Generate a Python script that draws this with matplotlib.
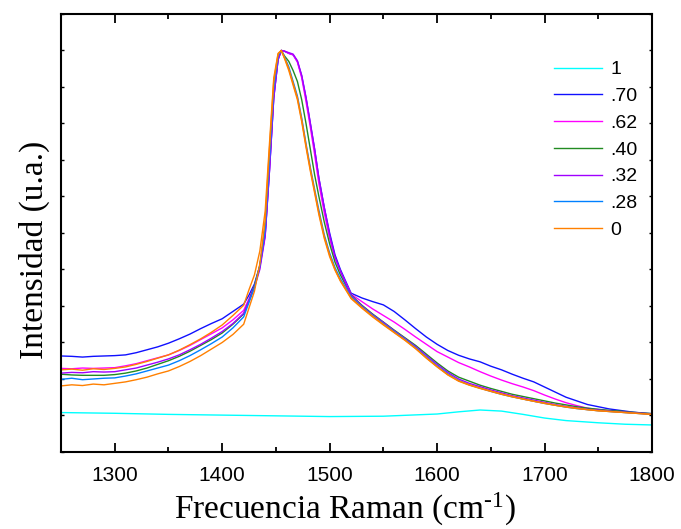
import matplotlib
matplotlib.use('Agg')
import matplotlib.pyplot as plt
from matplotlib.ticker import MultipleLocator, NullFormatter

# Raman shift grid (cm-1) shared by the sample spectra
freq = [1250, 1260, 1270, 1280, 1290, 1300, 1310, 1320, 1330, 1340, 1350, 1360, 1370, 1380, 1390, 1400, 1410, 1420,
        1425, 1430, 1435, 1440, 1444, 1448, 1452, 1455, 1458, 1462, 1466, 1470, 1474, 1478, 1482, 1486, 1490, 1495,
        1500, 1505, 1510,
        1520, 1530, 1540, 1550, 1560, 1570, 1580, 1590, 1600, 1610, 1620, 1630, 1640, 1650, 1660, 1670, 1680, 1690,
        1700, 1710, 1720, 1730, 1740, 1750, 1760, 1770, 1780, 1790, 1800]

s070 = [2.63, 2.62, 2.60, 2.62, 2.63, 2.64, 2.66, 2.72, 2.80, 2.88, 2.98, 3.10, 3.23, 3.38, 3.52, 3.65, 3.85, 4.05,
        4.30, 4.60, 5.10, 5.95, 7.70, 9.70, 10.75, 11.0, 10.98, 10.92, 10.88, 10.70, 10.30, 9.70, 9.00, 8.30, 7.50, 6.70,
        6.00, 5.40, 5.00,
        4.35, 4.22, 4.12, 4.03, 3.85, 3.62, 3.38, 3.15, 2.95, 2.78, 2.65, 2.55, 2.47, 2.35, 2.25, 2.13, 2.02, 1.92,
        1.78, 1.64, 1.50, 1.40, 1.30, 1.24, 1.18, 1.14, 1.10, 1.07, 1.05]

s062 = [2.29, 2.28, 2.30, 2.29, 2.30, 2.31, 2.36, 2.42, 2.50, 2.58, 2.66, 2.78, 2.92, 3.08, 3.24, 3.40, 3.62, 3.88,
        4.20, 4.55, 5.05, 5.95, 7.75, 9.75, 10.75, 11.0, 10.98, 10.92, 10.88, 10.68, 10.25, 9.60, 8.90, 8.15, 7.35, 6.55,
        5.85, 5.30, 4.95,
        4.32, 4.12, 3.92, 3.74, 3.56, 3.36, 3.15, 2.95, 2.75, 2.60, 2.45, 2.33, 2.20, 2.08, 1.97, 1.87, 1.78, 1.68,
        1.56, 1.45, 1.35, 1.27, 1.20, 1.16, 1.13, 1.10, 1.08, 1.06, 1.04]

s040 = [2.13, 2.11, 2.10, 2.10, 2.10, 2.12, 2.16, 2.22, 2.30, 2.40, 2.50, 2.62, 2.76, 2.92, 3.08, 3.26, 3.50, 3.78,
        4.15, 4.55, 5.10, 6.05, 7.90, 9.85, 10.80, 11.0, 10.85, 10.70, 10.45, 10.15, 9.65, 9.00, 8.30, 7.60, 7.00, 6.30,
        5.70, 5.20, 4.85,
        4.30, 4.02, 3.78, 3.56, 3.34, 3.13, 2.92, 2.68, 2.44, 2.22, 2.05, 1.94, 1.83, 1.74, 1.66, 1.58, 1.52, 1.46,
        1.40, 1.34, 1.29, 1.24, 1.20, 1.17, 1.14, 1.12, 1.09, 1.07, 1.05]

s032 = [2.16, 2.18, 2.17, 2.20, 2.19, 2.20, 2.25, 2.30, 2.38, 2.46, 2.55, 2.66, 2.80, 2.95, 3.12, 3.30, 3.52, 3.80,
        4.15, 4.50, 5.00, 5.90, 7.70, 9.70, 10.75, 11.0, 10.98, 10.94, 10.90, 10.72, 10.32, 9.72, 9.02, 8.30, 7.50, 6.70,
        5.95, 5.35, 4.95,
        4.28, 4.00, 3.76, 3.55, 3.32, 3.11, 2.89, 2.64, 2.40, 2.18, 2.00, 1.88, 1.79, 1.70, 1.62, 1.54, 1.48, 1.42,
        1.36, 1.30, 1.25, 1.21, 1.17, 1.15, 1.12, 1.10, 1.08, 1.06, 1.04]

s028 = [1.99, 2.02, 1.98, 2.00, 2.02, 2.03, 2.08, 2.14, 2.22, 2.30, 2.38, 2.50, 2.64, 2.80, 2.97, 3.15, 3.40, 3.70,
        4.10, 4.50, 5.10, 6.10, 8.00, 9.95, 10.85, 11.0, 10.82, 10.55, 10.15, 9.75, 9.15, 8.45, 7.80, 7.20, 6.62, 5.95,
        5.45, 5.05, 4.75,
        4.25, 3.98, 3.74, 3.52, 3.30, 3.09, 2.86, 2.60, 2.36, 2.14, 1.96, 1.84, 1.75, 1.66, 1.58, 1.51, 1.45, 1.39,
        1.33, 1.28, 1.23, 1.19, 1.16, 1.13, 1.11, 1.09, 1.07, 1.05, 1.03]

s000 = [1.81, 1.84, 1.82, 1.86, 1.84, 1.88, 1.92, 1.98, 2.05, 2.14, 2.22, 2.34, 2.48, 2.64, 2.82, 3.00, 3.22, 3.50,
        3.95, 4.40, 5.15, 6.35, 8.30, 10.15, 10.90, 11.0, 10.80, 10.50, 10.10, 9.70, 9.10, 8.40, 7.75, 7.15, 6.55, 5.90,
        5.40, 5.00, 4.70,
        4.22, 3.96, 3.72, 3.50, 3.28, 3.07, 2.84, 2.58, 2.34, 2.12, 1.95, 1.84, 1.75, 1.67, 1.59, 1.52, 1.45, 1.39,
        1.34, 1.28, 1.24, 1.20, 1.16, 1.13, 1.11, 1.09, 1.07, 1.05, 1.03]

# second (unlabelled) orange trace
s000b = [2.25, 2.27, 2.24, 2.28, 2.26, 2.29, 2.33, 2.40, 2.48, 2.57, 2.66, 2.79, 2.94, 3.10, 3.28, 3.48, 3.74, 4.02,
         4.45, 4.85, 5.50, 6.60, 8.45, 10.25, 10.92, 11.0, 10.78, 10.45, 10.05, 9.65, 9.05, 8.35, 7.70, 7.10, 6.50, 5.85,
         5.35, 4.98, 4.68,
         4.20, 3.94, 3.70, 3.48, 3.27, 3.06, 2.83, 2.57, 2.33, 2.11, 1.94, 1.83, 1.74, 1.66, 1.58, 1.51, 1.45, 1.39,
         1.33, 1.28, 1.23, 1.19, 1.16, 1.13, 1.11, 1.09, 1.07, 1.05, 1.03]

# x = 1 sample, flat spectrum
freq_1 = [1250, 1300, 1350, 1400, 1450, 1500, 1550, 1600, 1620, 1640, 1660, 1680, 1700, 1720, 1750, 1775, 1800]
s100 = [1.08, 1.06, 1.03, 1.01, 0.99, 0.97, 0.98, 1.04, 1.10, 1.15, 1.12, 1.03, 0.93, 0.86, 0.80, 0.76, 0.74]

plt.rcParams['mathtext.fontset'] = 'custom'
plt.rcParams['mathtext.rm'] = 'Liberation Serif'
plt.rcParams['mathtext.it'] = 'Liberation Serif'

fig = plt.figure(figsize=(6.81, 5.29), dpi=100)
ax = fig.add_axes([0.0896, 0.1456, 0.8678, 0.828])

ax.plot(freq_1, s100, color='#00ffff', lw=1, label='1')
ax.plot(freq, s070, color='#1010ff', lw=1, label='.70')
ax.plot(freq, s062, color='#ff00ff', lw=1, label='.62')
ax.plot(freq, s040, color='#228b22', lw=1, label='.40')
ax.plot(freq, s032, color='#a000ff', lw=1, label='.32')
ax.plot(freq, s028, color='#0080ff', lw=1, label='.28')
ax.plot(freq, s000b, color='#ff8000', lw=1, label='_nolegend_')
ax.plot(freq, s000, color='#ff8000', lw=1, label='0')

ax.set_xlim(1250, 1800)
ax.set_ylim(0, 12)

ax.xaxis.set_major_locator(MultipleLocator(100))
ax.xaxis.set_minor_locator(MultipleLocator(50))
ax.yaxis.set_major_locator(MultipleLocator(1))
ax.yaxis.set_major_formatter(NullFormatter())
ax.tick_params(axis='x', which='major', direction='in', top=True, length=6.5, width=1.3, pad=10)
ax.tick_params(axis='x', which='minor', direction='in', top=True, length=3.5, width=1.3)
ax.tick_params(axis='y', which='major', direction='in', right=True, length=2, width=1)
for lbl in ax.get_xticklabels():
    lbl.set_family('Liberation Sans')
    lbl.set_fontsize(15)
for sp in ax.spines.values():
    sp.set_linewidth(1.5)

ax.set_xlabel(r'Frecuencia Raman (cm$^{\text{-1}}$)', family='Liberation Serif', fontsize=24)
ax.set_ylabel('Intensidad (u.a.)', family='Liberation Serif', fontsize=24)
ax.xaxis.set_label_coords(0.48, -0.09)
ax.yaxis.set_label_coords(-0.019, 0.462)

ax.legend(loc='upper left', bbox_to_anchor=(0.834, 0.893), frameon=False, borderpad=0, borderaxespad=0,
          handlelength=2.5, handletextpad=0.4, labelspacing=0.47, prop={'family': 'Liberation Sans', 'size': 14})

fig.savefig('out.png', dpi=100)
